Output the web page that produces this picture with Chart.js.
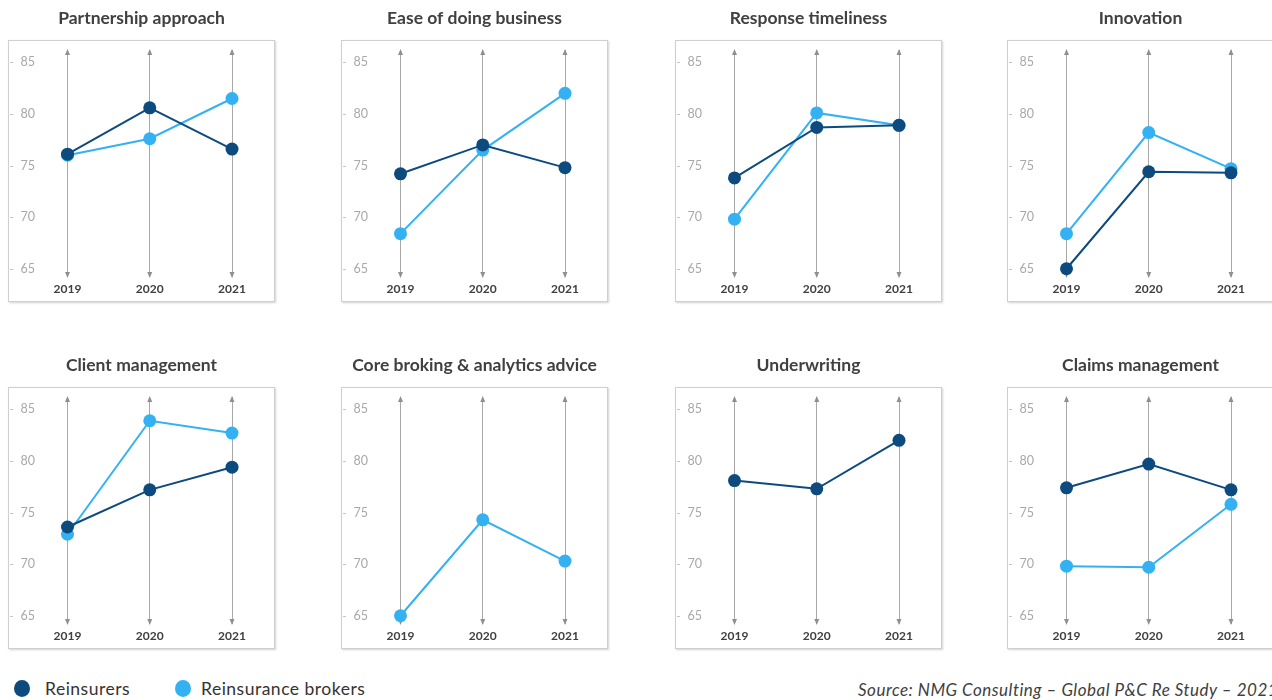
<!DOCTYPE html>
<html>
<head>
<meta charset="utf-8">
<script src="https://cdn.jsdelivr.net/npm/chart.js@4.4.0/dist/chart.umd.min.js"></script>
<style>
html,body{margin:0;padding:0;background:#fff;width:1272px;height:700px;overflow:hidden;font-family:Lato,'Open Sans',sans-serif;}
.box{position:absolute;width:265px;height:260px;border:1px solid #cfcfcf;box-shadow:1px 1px 2px rgba(0,0,0,0.18);background:#fff;}
.cw{position:absolute;width:267px;height:302px;}
.dot{position:absolute;width:16px;height:17px;border-radius:50%;}
.lg{position:absolute;font-size:17.5px;color:#333;letter-spacing:0.5px;white-space:nowrap;}
.src{position:absolute;font-size:17px;font-style:italic;color:#404040;letter-spacing:0.5px;white-space:nowrap;}
</style>
</head>
<body>
<div id="wrap"></div>
<div class="dot" style="left:14px;top:680px;background:#0d4a7e"></div>
<div class="lg" style="left:45px;top:678px">Reinsurers</div>
<div class="dot" style="left:175px;top:680px;background:#33b1f3"></div>
<div class="lg" style="left:201px;top:678px">Reinsurance brokers</div>
<div class="src" style="left:858px;top:679px">Source: NMG Consulting – Global P&amp;C Re Study – 2021</div>
<script>
// ---- data ----
const years = ['2019', '2020', '2021'];
const yTicks = [65, 70, 75, 80, 85];
const seriesNames = ['Reinsurers', 'Reinsurance brokers'];
const panelTitles = ['Partnership approach', 'Ease of doing business', 'Response timeliness', 'Innovation',
  'Client management', 'Core broking & analytics advice', 'Underwriting', 'Claims management'];

const partnershipReinsurers = [76.1, 80.6, 76.6];
const partnershipBrokers    = [76.0, 77.6, 81.5];
const easeReinsurers        = [74.2, 77.0, 74.8];
const easeBrokers           = [68.4, 76.5, 82.0];
const responseReinsurers    = [73.8, 78.7, 78.9];
const responseBrokers       = [69.8, 80.1, 78.9];
const innovationReinsurers  = [65.0, 74.4, 74.3];
const innovationBrokers     = [68.4, 78.2, 74.7];
const clientReinsurers      = [73.6, 77.2, 79.4];
const clientBrokers         = [72.9, 83.9, 82.7];
const coreReinsurers        = null;
const coreBrokers           = [65.0, 74.3, 70.3];
const underwritingReinsurers = [78.1, 77.3, 82.0];
const underwritingBrokers   = null;
const claimsReinsurers      = [77.4, 79.7, 77.2];
const claimsBrokers         = [69.8, 69.7, 75.8];

const reinsurersByPanel = [partnershipReinsurers, easeReinsurers, responseReinsurers, innovationReinsurers,
  clientReinsurers, coreReinsurers, underwritingReinsurers, claimsReinsurers];
const brokersByPanel = [partnershipBrokers, easeBrokers, responseBrokers, innovationBrokers,
  clientBrokers, coreBrokers, underwritingBrokers, claimsBrokers];

// ---- layout / style ----
const panelLefts = [8, 341, 675, 1007];
const rowTops = [0, 347];
const DARK = '#0d4a7e';
const LIGHT = '#33b1f3';

const arrowsPlugin = {
  id: 'arrows',
  beforeDatasetsDraw(chart) {
    const { ctx, chartArea: { top, bottom }, scales: { x, y } } = chart;
    ctx.save();
    ctx.fillStyle = '#8f8f8f';
    years.forEach((_, i) => {
      const px = x.getPixelForValue(i);
      ctx.beginPath(); ctx.moveTo(px, top - 1); ctx.lineTo(px - 2.5, top + 5); ctx.lineTo(px + 2.5, top + 5); ctx.closePath(); ctx.fill();
      ctx.beginPath(); ctx.moveTo(px, bottom + 1); ctx.lineTo(px - 2.5, bottom - 5); ctx.lineTo(px + 2.5, bottom - 5); ctx.closePath(); ctx.fill();
    });
    ctx.strokeStyle = '#c4c4c4';
    ctx.lineWidth = 1;
    yTicks.forEach(v => {
      const py = Math.round(y.getPixelForValue(v)) + 0.5;
      ctx.beginPath(); ctx.moveTo(2, py); ctx.lineTo(5, py); ctx.stroke();
    });
    ctx.restore();
  }
};

const wrap = document.getElementById('wrap');
panelTitles.forEach((title, i) => {
  const left = panelLefts[i % 4];
  const top = rowTops[Math.floor(i / 4)];
  const box = document.createElement('div');
  box.className = 'box';
  box.style.left = left + 'px';
  box.style.top = (top + 40) + 'px';
  wrap.appendChild(box);
  const cw = document.createElement('div');
  cw.className = 'cw';
  cw.style.left = left + 'px'; cw.style.top = top + 'px';
  const cv = document.createElement('canvas');
  cw.appendChild(cv);
  wrap.appendChild(cw);

  const datasets = [];
  if (reinsurersByPanel[i]) datasets.push({
    label: seriesNames[0], data: reinsurersByPanel[i], borderColor: DARK, backgroundColor: DARK,
    pointBackgroundColor: DARK, pointBorderWidth: 0, pointRadius: 6.5, borderWidth: 2, clip: false, order: 0
  });
  if (brokersByPanel[i]) datasets.push({
    label: seriesNames[1], data: brokersByPanel[i], borderColor: LIGHT, backgroundColor: LIGHT,
    pointBackgroundColor: LIGHT, pointBorderWidth: 0, pointRadius: 6.5, borderWidth: 2, clip: false, order: 1
  });

  new Chart(cv, {
    type: 'line',
    data: { labels: years, datasets },
    options: {
      responsive: true,
      maintainAspectRatio: false,
      animation: false,
      devicePixelRatio: 1,
      layout: { padding: 0 },
      plugins: {
        legend: { display: false },
        tooltip: { enabled: false },
        title: {
          display: true, text: title, color: '#404040',
          font: { family: 'Lato', size: 17.5, weight: 'bold', lineHeight: 1.2 },
          padding: { top: 7.5, bottom: 21.5 }
        }
      },
      scales: {
        x: {
          type: 'category', offset: false,
          grid: { display: true, color: '#a8a8a8', lineWidth: 1, drawTicks: false },
          border: { display: false },
          ticks: { color: '#404040', font: { family: 'Lato', size: 12, weight: 'bold' }, padding: 4.5, maxRotation: 0, autoSkip: false },
          afterFit(s) { s.height = 25; }
        },
        y: {
          min: 64.2, max: 86.2,
          grid: { display: false, drawTicks: false },
          border: { display: false },
          ticks: { color: '#a8a8a8', font: { family: 'Lato', size: 12.5 }, padding: 32.5 },
          afterBuildTicks(s) { s.ticks = yTicks.map(v => ({ value: v })); },
          afterFit(s) { s.width = 59.5; s.paddingTop = 0; s.paddingBottom = 0; }
        },
        yRight: {
          position: 'right', min: 64.2, max: 86.2,
          grid: { display: false, drawTicks: false },
          border: { display: false },
          ticks: { display: false },
          afterFit(s) { s.width = 43; s.paddingTop = 0; s.paddingBottom = 0; }
        }
      }
    },
    plugins: [arrowsPlugin]
  });
});
</script>
</body>
</html>
